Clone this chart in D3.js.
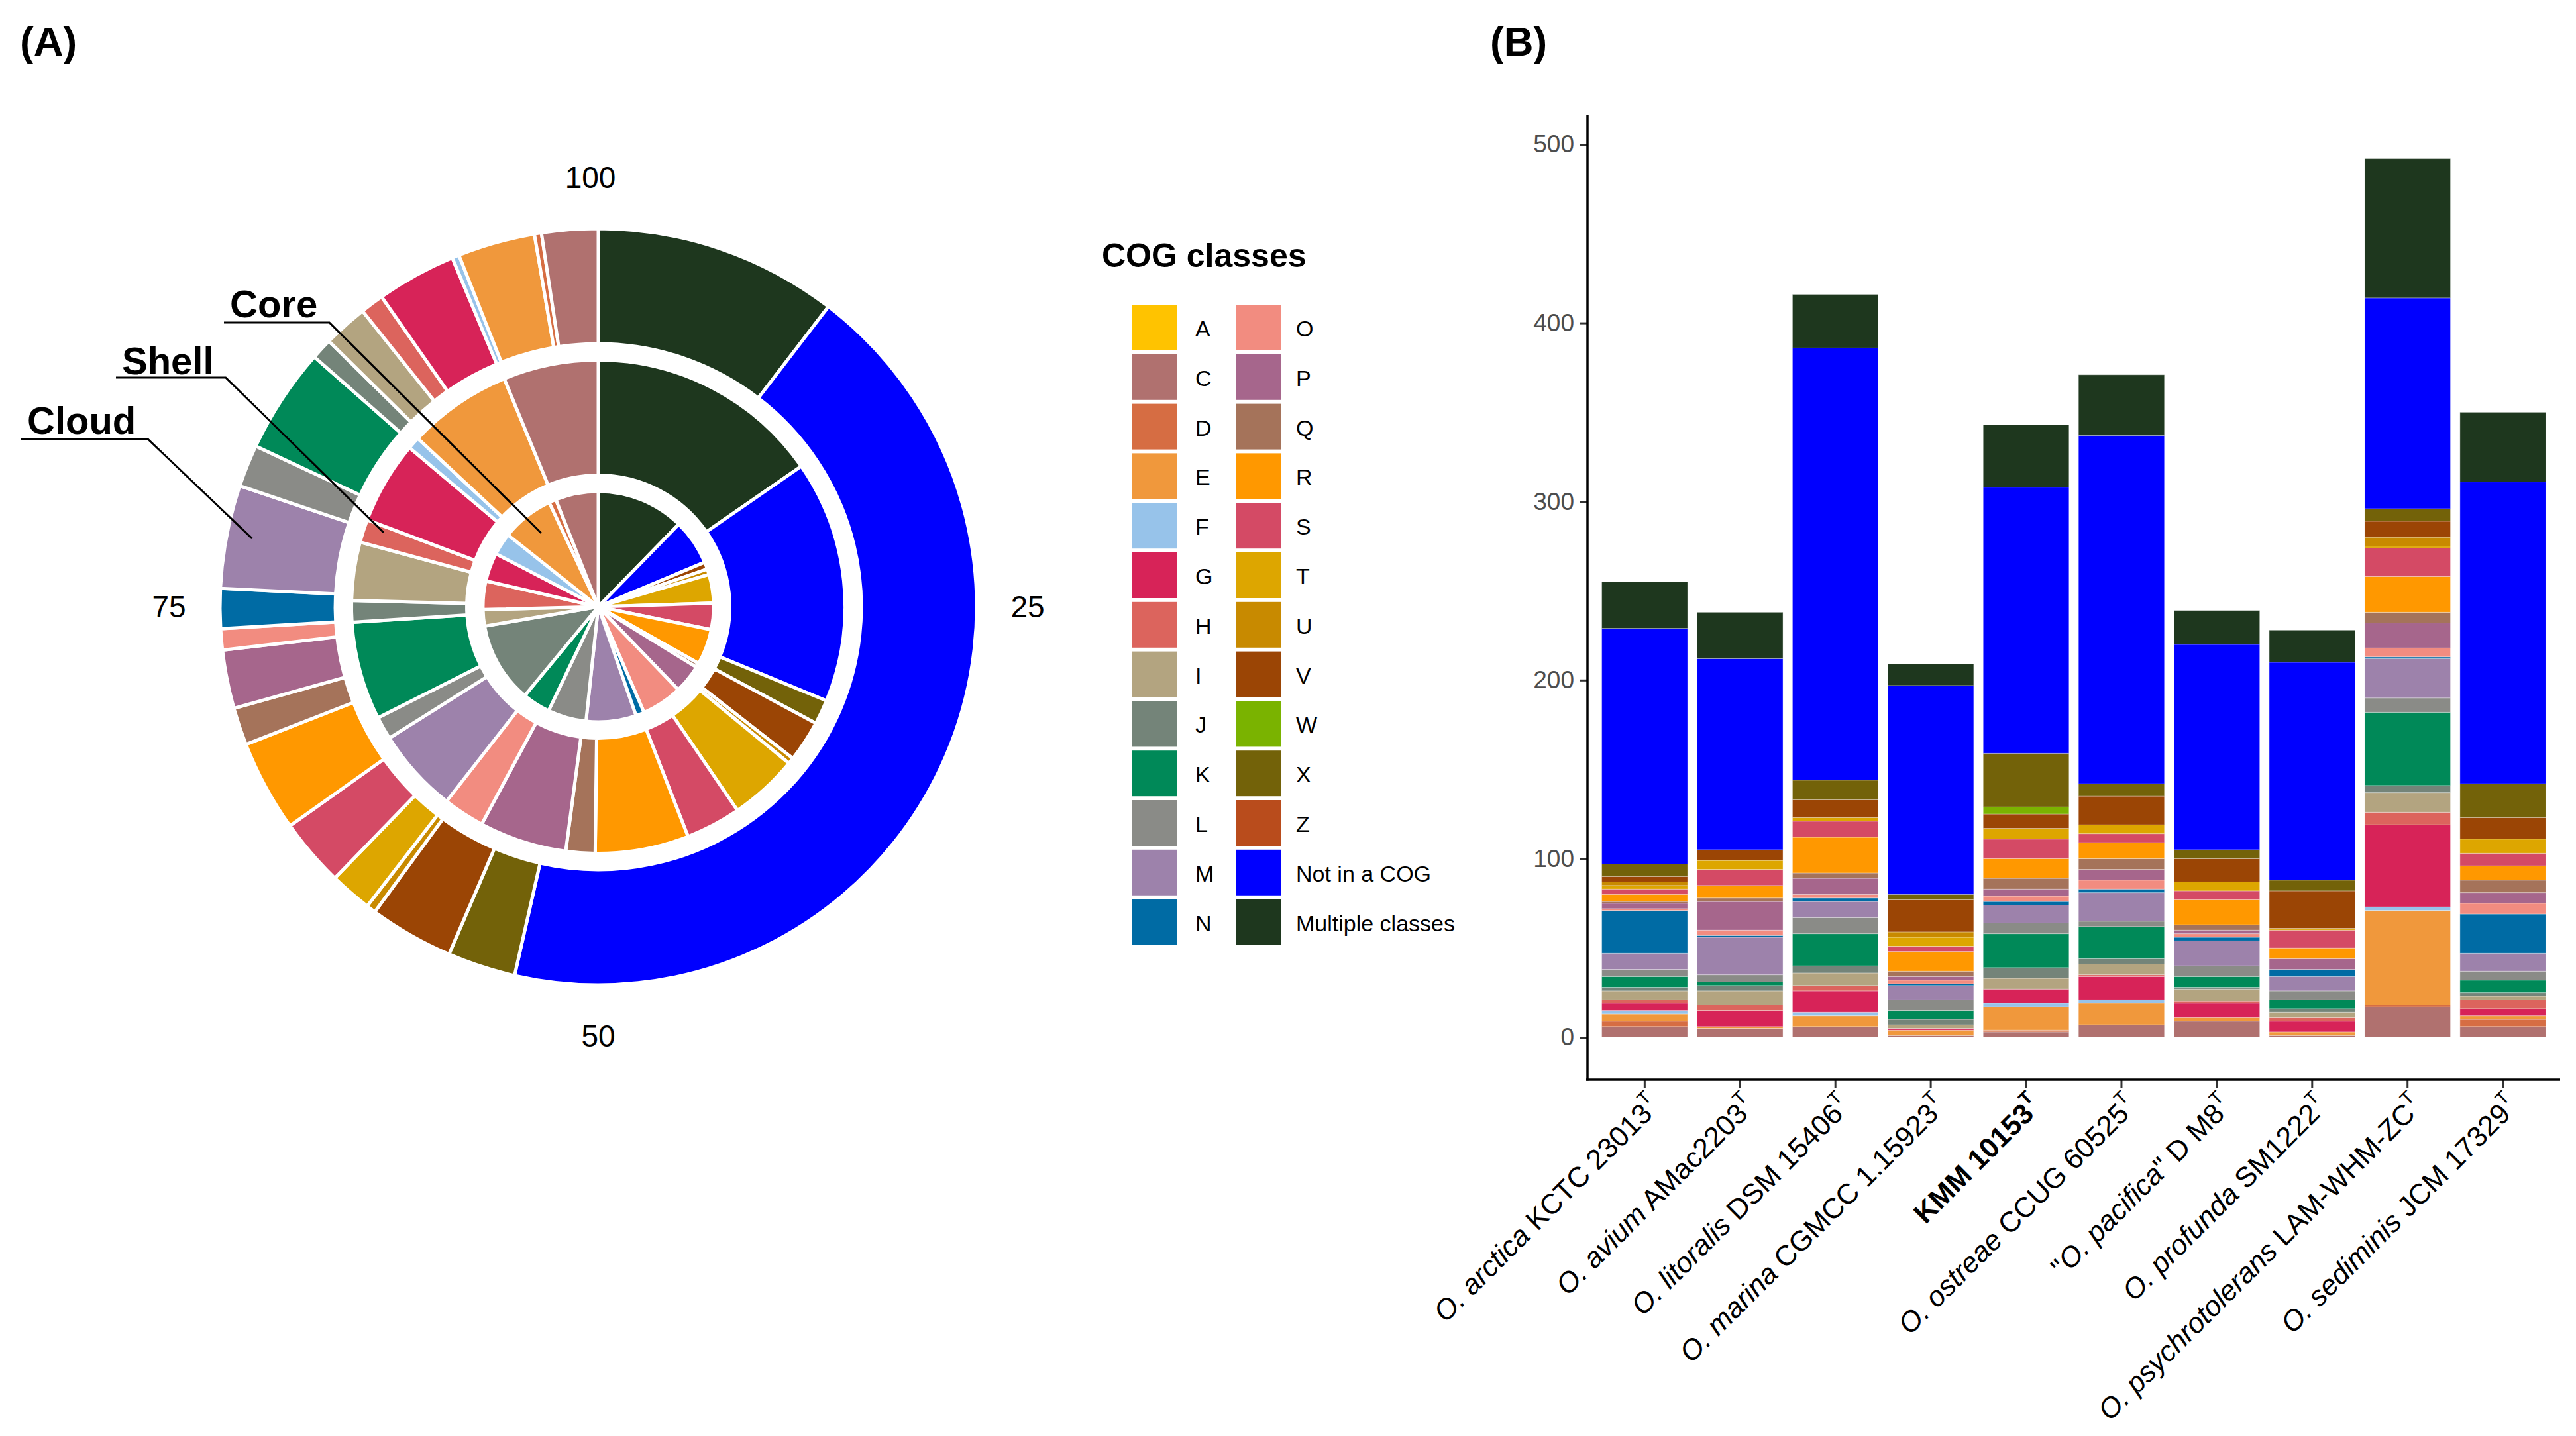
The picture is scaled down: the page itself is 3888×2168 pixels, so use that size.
<!DOCTYPE html>
<html lang="en">
<head>
<meta charset="utf-8">
<title>COG classes</title>
<script src="https://d3js.org/d3.v7.min.js"></script>
<style>
    body { margin: 0; background: #fff; }
    text { font-family: "Liberation Sans", Arial, Helvetica, sans-serif; }
</style>
</head>
<body>
<svg id="fig" width="3888" height="2168"></svg>
<script>
// COG classes, in legend / stacking order (first = bottom of the bars)
let cogClasses = ["A","C","D","E","F","G","H","I","J","K","L","M","N",
                  "O","P","Q","R","S","T","U","V","W","X","Z","Not in a COG","Multiple classes"];
let cogColors = ["#FFC300","#B0716F","#D66D43","#F0983C","#97C3EA","#D72358","#DC645D","#B3A480",
                 "#748479","#008958","#8A8B87","#9D82AB","#006BA4","#F28C80","#A6668C","#A5735A",
                 "#FF9800","#D44A65","#DDA600","#C88A00","#9B4505","#7AB300","#736209","#B94C1C",
                 "#0000FF","#1E371E"];

// Panel A: share (%) of each COG class in core / shell / cloud genome
let corePct  = [0, 6.0, 1.0, 7.3, 3.1, 4.0, 4.0, 2.3, 11.3, 3.9, 5.4, 7.0, 1.2,
                5.7, 4.0, 0.6, 5.0, 3.7, 4.0, 0.8, 1.0, 0, 0, 0, 6.4, 12.3];
let shellPct = [0, 6.2, 0, 6.8, 0.8, 5.4, 1.5, 3.8, 1.4, 6.4, 1.5, 5.5, 0,
                2.7, 5.7, 1.9, 6.1, 3.6, 4.5, 0.4, 2.7, 0, 1.6, 0, 15.8, 15.3];
let cloudPct = [0, 2.4, 0.3, 3.3, 0.3, 3.4, 1.0, 1.9, 0.9, 4.5, 1.8, 4.4, 1.7,
                0.9, 2.5, 1.6, 3.9, 2.9, 1.8, 0.4, 3.6, 0, 2.9, 0, 43.1, 10.4];
let ringNames = ["Core", "Shell", "Cloud"];
let angleTicks = [25, 50, 75, 100];
// where the leader line of each ring label ends (percent round, relative depth in ring)
let ringPointPct = [89.5, 80.3, 78.1];
let ringPointDepth = [0.81, 0.83, 0.78];

// Panel B: number of genes per COG class for each strain
let strains = ["arctica","avium","litoralis","marina","kmm","ostreae","pacifica","profunda","psychrotolerans","sediminis"];
let arctica         = [0,6,3,4,2,4,2,5,2,6,4,9,24, 1,3,1,4,3,2,2,3,0,7,0, 132,26];
let avium           = [0,5,0,1,0,9,3,8,3,2,4,21,1, 3,16,2,7,9,5,0,6,0,0,0, 107,26];
let litoralis       = [0,6,0,6,2,12,3,7,4,18,9,9,2, 2,9,3,20,9,2,0,10,0,11,0, 242,30];
let marina          = [0,1,0,3,0,1,0,2,3,5,6,8,1, 2,2,3,11,3,5,3,18,0,3,0, 117,12];
let kmm             = [0,3,1,13,2,8,0,6,6,19,6,10,2, 3,4,6,11,11,6,0,8,4,30,0, 149,35];
let ostreae         = [0,7,0,12,2,13,1,6,3,18,3,16,2, 5,6,6,9,5,5,0,16,0,7,0, 195,34];
let pacifica        = [0,9,0,2,0,8,1,7,1,6,6,14,2, 2,2,3,14,5,5,0,13,0,5,0, 115,19];
let profunda        = [0,1,0,2,0,6,2,3,2,5,5,8,4, 0,6,0,6,10,1,0,21,0,6,0, 122,18];
let psychrotolerans = [0,17,1,53,2,46,7,11,4,41,8,22,1, 5,14,6,20,16,1,5,9,0,7,0, 118,78];
let sediminis       = [0,6,4,2,0,4,5,2,2,7,5,10,22, 6,6,7,8,7,8,0,12,0,19,0, 169,39];
let strainCounts = [arctica, avium, litoralis, marina, kmm, ostreae, pacifica, profunda, psychrotolerans, sediminis];

// axis label pieces: [style, text]
let strainLabels = [
    [["i","O. arctica"],["n"," KCTC 23013"]],
    [["i","O. avium"],["n"," AMac2203"]],
    [["i","O. litoralis"],["n"," DSM 15406"]],
    [["i","O. marina"],["n"," CGMCC 1.15923"]],
    [["b","KMM 10153"]],
    [["i","O. ostreae"],["n"," CCUG 60525"]],
    [["n","\""],["i","O. pacifica"],["n","\" D M8"]],
    [["i","O. profunda"],["n"," SM1222"]],
    [["i","O. psychrotolerans"],["n"," LAM-WHM-ZC"]],
    [["i","O. sediminis"],["n"," JCM 17329"]]
];
let yTicks = [0, 100, 200, 300, 400, 500];

let svg = d3.select("#fig");
let color = d3.scaleOrdinal().domain(cogClasses).range(cogColors);

// panel tags
svg.append("text").attr("x", 30).attr("y", 84).attr("font-size", 62).attr("font-weight", "bold").text("(A)");
svg.append("text").attr("x", 2249).attr("y", 84).attr("font-size", 62).attr("font-weight", "bold").text("(B)");

/*************** PANEL A: nested donut ***************/
let cx = 903, cy = 916;
let ring = d3.scaleBand().domain(ringNames).range([0, 571]).paddingInner(0.123).paddingOuter(0);
let turn = d3.scaleLinear().domain([0, 100]).range([0, 2 * Math.PI]);
let pie = d3.pie().sort(null).value(function(d) { return d.v; });

let gA = svg.append("g").attr("transform", "translate(" + cx + "," + cy + ")");
let ringData = [corePct, shellPct, cloudPct];

ringNames.forEach(function(name, i) {
    // clockwise from the top: Multiple classes first, A last
    let items = cogClasses.map(function(c, j) { return {cls: c, v: ringData[i][j]}; }).reverse();
    let arc = d3.arc()
        .innerRadius(i == 0 ? 0 : ring(name))
        .outerRadius(ring(name) + ring.bandwidth());
    gA.selectAll("path.r" + i)
        .data(pie(items).filter(function(d) { return d.data.v > 0; }))
        .enter()
        .append("path")
        .attr("class", "r" + i)
        .attr("d", arc)
        .attr("fill", function(d) { return color(d.data.cls); })
        .attr("stroke", "white")
        .attr("stroke-width", 5)
        .attr("stroke-linejoin", "miter");
});

// angular labels
gA.selectAll("text.tick")
    .data(angleTicks)
    .enter()
    .append("text")
    .attr("class", "tick")
    .attr("x", function(d) { return 648 * Math.sin(turn(d)) - (d == 100 ? 12 : 0); })
    .attr("y", function(d) { return -648 * Math.cos(turn(d)); })
    .attr("text-anchor", "middle")
    .attr("dominant-baseline", "central")
    .attr("font-size", 46)
    .text(function(d) { return d; });

// ring labels with underline + leader line
let labelPos = [[347, 479, 487], [184, 565, 570], [41, 655, 663]];
ringNames.forEach(function(name, i) {
    let t = svg.append("text")
        .attr("x", labelPos[i][0]).attr("y", labelPos[i][1])
        .attr("font-size", 58).attr("font-weight", "bold")
        .text(name);
    let w = t.node().getComputedTextLength();
    let r = ring(name) * (i == 0 ? 0 : 1) + ringPointDepth[i] * (i == 0 ? ring(name) + ring.bandwidth() : ring.bandwidth());
    let a = turn(ringPointPct[i]);
    let px = cx + r * Math.sin(a), py = cy - r * Math.cos(a);
    let x0 = labelPos[i][0] - 9, x1 = labelPos[i][0] + w + 18, uy = labelPos[i][2];
    svg.append("path")
        .attr("d", "M" + x0 + "," + uy + "L" + x1 + "," + uy + "L" + px + "," + py)
        .attr("fill", "none")
        .attr("stroke", "black")
        .attr("stroke-width", 3);
});

/*************** LEGEND ***************/
let gL = svg.append("g");
gL.append("text").attr("x", 1663).attr("y", 403).attr("font-size", 50).attr("font-weight", "bold").text("COG classes");
let keys = gL.selectAll("g.key")
    .data(cogClasses)
    .enter()
    .append("g")
    .attr("class", "key")
    .attr("transform", function(d, i) {
        let col = Math.floor(i / 13), row = i % 13;
        return "translate(" + (1708 + col * 158) + "," + (460 + row * 74.8) + ")";
    });
keys.append("rect")
    .attr("width", 68).attr("height", 69)
    .attr("fill", function(d) { return color(d); });
keys.append("text")
    .attr("x", function(d, i) { return i < 13 ? 96 : 90; })
    .attr("y", 36)
    .attr("dominant-baseline", "central")
    .attr("font-size", 34)
    .text(function(d) { return d; });

/*************** PANEL B: stacked bars ***************/
let table = strains.map(function(s, i) {
    let row = {strain: s};
    cogClasses.forEach(function(c, j) { row[c] = strainCounts[i][j]; });
    return row;
});
let series = d3.stack().keys(cogClasses)(table);

let x = d3.scaleBand().domain(strains).range([2396, 3864]).paddingInner(0.1).paddingOuter(0.15);
let y = d3.scaleLinear().domain([0, 500]).range([1566, 218]);
let axisY = 1630;

let gB = svg.append("g");
gB.selectAll("g.layer")
    .data(series)
    .enter()
    .append("g")
    .attr("class", "layer")
    .attr("fill", function(d) { return color(d.key); })
    .selectAll("rect")
    .data(function(d) { return d.filter(function(p) { return p[1] > p[0]; }); })
    .enter()
    .append("rect")
    .attr("x", function(d) { return x(d.data.strain); })
    .attr("y", function(d) { return y(d[1]); })
    .attr("width", x.bandwidth())
    .attr("height", function(d) { return y(d[0]) - y(d[1]); })
    .attr("stroke", "white")
    .attr("stroke-opacity", 0.35)
    .attr("stroke-width", 1);

// y axis
let yAxis = d3.axisLeft(y).tickValues(yTicks).tickSize(12).tickPadding(8);
let gy = svg.append("g").attr("transform", "translate(2396,0)").call(yAxis);
gy.select(".domain").remove();
gy.selectAll(".tick line").attr("stroke", "#333").attr("stroke-width", 3);
gy.selectAll(".tick text").attr("font-size", 37).attr("fill", "#4d4d4d")
    .attr("font-family", "'Liberation Sans', Arial, sans-serif");
svg.append("line").attr("x1", 2396).attr("x2", 2396).attr("y1", 173).attr("y2", axisY + 1.5)
    .attr("stroke", "black").attr("stroke-width", 3.5);

// x axis
let xAxis = d3.axisBottom(x).tickSize(12).tickFormat("");
let gx = svg.append("g").attr("transform", "translate(0," + axisY + ")").call(xAxis);
gx.select(".domain").remove();
gx.selectAll(".tick line").attr("stroke", "#333").attr("stroke-width", 3);
svg.append("line").attr("x1", 2394).attr("x2", 3864).attr("y1", axisY).attr("y2", axisY)
    .attr("stroke", "black").attr("stroke-width", 3.5);

let xl = svg.selectAll("text.xlab")
    .data(strains)
    .enter()
    .append("text")
    .attr("class", "xlab")
    .attr("text-anchor", "end")
    .attr("font-size", 43)
    .attr("transform", function(d) {
        return "translate(" + (x(d) + x.bandwidth() / 2 + 4) + "," + (axisY + 20) + ") rotate(-45)";
    })
    .attr("dy", "0.72em");
xl.each(function(d, i) {
    let node = d3.select(this);
    strainLabels[i].forEach(function(part) {
        node.append("tspan")
            .attr("font-style", part[0] == "i" ? "italic" : "normal")
            .attr("font-weight", part[0] == "b" ? "bold" : "normal")
            .text(part[1]);
    });
    node.append("tspan")
        .attr("font-size", 28)
        .attr("dy", "-0.7em")
        .attr("font-weight", i == 4 ? "bold" : "normal")
        .text("T");
});
</script>
</body>
</html>
